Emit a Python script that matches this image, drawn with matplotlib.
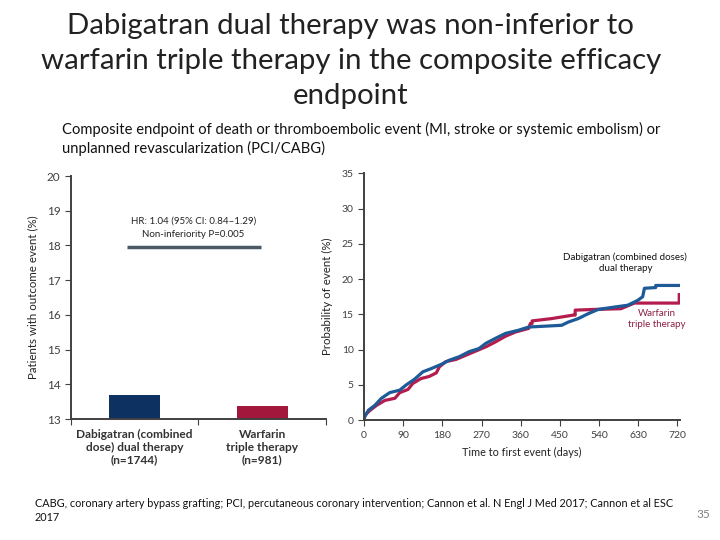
import matplotlib
matplotlib.use("Agg")
import matplotlib.pyplot as plt
import numpy as np

# ── data ─────────────────────────────────────────────────────────────────────
BAR_LABELS = ["Dabigatran (combined\ndose) dual therapy\n(n=1744)",
              "Warfarin\ntriple therapy\n(n=981)"]
BAR_VALUES = [13.68, 13.39]

# Kaplan-Meier curves (repeated day = vertical jump)
DABI_DAYS = [0, 0, 10, 25, 40, 59, 82, 97, 116, 135, 154, 177, 196, 219, 241,
             264, 280, 302, 325, 355, 378, 454, 469, 492, 515, 538, 560, 606,
             629, 640, 644, 670, 670, 726]
DABI_PROB = [0, 0.3, 1.4, 2.1, 3.1, 3.9, 4.25, 5.0, 5.8, 6.85, 7.3, 7.9, 8.5,
             9.0, 9.7, 10.15, 10.9, 11.6, 12.3, 12.75, 13.2, 13.45, 13.9, 14.4,
             15.1, 15.7, 15.9, 16.3, 17.0, 17.5, 18.7, 18.8, 19.1, 19.1]

WARF_DAYS = [0, 2, 14, 29, 48, 71, 82, 101, 112, 131, 150, 166, 173, 188, 211,
             234, 253, 280, 302, 325, 348, 378, 382, 386, 386, 431, 481, 485,
             485, 530, 590, 621, 724, 724]
WARF_PROB = [0, 0.7, 1.4, 2.1, 2.8, 3.1, 3.9, 4.35, 5.2, 5.9, 6.2, 6.7, 7.55,
             8.3, 8.6, 9.2, 9.7, 10.4, 11.1, 11.9, 12.5, 13.0, 13.7, 13.7,
             14.07, 14.4, 14.9, 14.9, 15.6, 15.7, 15.8, 16.6, 16.6, 17.8]

DAY_TICKS = [0, 90, 180, 270, 360, 450, 540, 630, 720]

# ── colours ──────────────────────────────────────────────────────────────────
NAVY = "#0d3261"
CRIMSON = "#a3173c"
KM_BLUE = "#1d5a97"
KM_RED = "#b41c4e"
AX_TXT = "#404040"

plt.rcParams["font.family"] = ["Lato", "DejaVu Sans"]

fig = plt.figure(figsize=(7.2, 5.4), dpi=100)

# ── title / subtitle ─────────────────────────────────────────────────────────
fig.text(0.487, 0.976, "Dabigatran dual therapy was non-inferior to\n"
         "warfarin triple therapy in the composite efficacy\nendpoint",
         ha="center", va="top", fontsize=21.2, color="#222222",
         fontweight="normal", linespacing=1.42)
fig.text(0.086, 0.743, "Composite endpoint of death or thromboembolic event (MI, "
         "stroke or systemic embolism) or\nunplanned revascularization (PCI/CABG)",
         ha="left", va="center", fontsize=10.6, color="#111111", linespacing=1.3)

# ── left: bar chart ──────────────────────────────────────────────────────────
ax1 = fig.add_axes([0.0986, 0.224, 0.354, 0.45])
x = np.arange(len(BAR_VALUES))
ax1.bar(x, [v - 13 for v in BAR_VALUES], bottom=13, width=0.4,
        color=[NAVY, CRIMSON])
ax1.set_xlim(-0.5, 1.5)
ax1.set_ylim(13, 20)
ax1.set_yticks(range(13, 21))
ax1.set_xticks([-0.5, 0.5, 1.5])
ax1.set_xticklabels([])
ax1.set_xticks(x, minor=True)
ax1.set_xticklabels(BAR_LABELS, minor=True, fontsize=8.6, fontweight="bold",
                    color="#333333", linespacing=1.2)
ax1.tick_params(axis="x", which="minor", length=0, pad=7)
ax1.tick_params(axis="both", which="major", length=4, direction="out",
                color=AX_TXT, labelsize=8.5, labelcolor=AX_TXT)
ax1.spines[["top", "right"]].set_visible(False)
ax1.spines[["left", "bottom"]].set_color(AX_TXT)
ax1.spines[["left", "bottom"]].set_linewidth(1.4)
ax1.set_ylabel("Patients with outcome event (%)", fontsize=8.3, color="#222222",
               labelpad=6)

# HR bracket + annotation
ax1.plot([-0.06, 0.99], [17.97, 17.97], color="#4b5866", linewidth=2.5,
         solid_capstyle="butt")
ax1.text(0.46, 18.5, "HR: 1.04 (95% CI: 0.84\u20131.29)\nNon-inferiority P=0.005",
         ha="center", va="center", fontsize=7, color="#222222",
         linespacing=1.65)

# ── right: Kaplan–Meier curves ───────────────────────────────────────────────
ax2 = fig.add_axes([0.5056, 0.222, 0.439, 0.457])
ax2.plot(WARF_DAYS, WARF_PROB, color=KM_RED, linewidth=2.3)
ax2.plot(DABI_DAYS, DABI_PROB, color=KM_BLUE, linewidth=2.3)
ax2.set_xlim(0, 726)
ax2.set_ylim(0, 35)
ax2.set_xticks(DAY_TICKS)
ax2.set_yticks(range(0, 36, 5))
ax2.tick_params(axis="both", length=4, direction="out", color=AX_TXT,
                labelsize=7.5, labelcolor=AX_TXT)
ax2.spines[["top", "right"]].set_visible(False)
ax2.spines[["left", "bottom"]].set_color(AX_TXT)
ax2.spines[["left", "bottom"]].set_linewidth(1.4)
ax2.set_ylabel("Probability of event (%)", fontsize=8.3, color="#222222",
               labelpad=6)
ax2.set_xlabel("Time to first event (days)", fontsize=7.8, color="#222222",
               labelpad=5)

ax2.text(600, 22.3, "Dabigatran (combined doses)\ndual therapy", ha="center",
         va="center", fontsize=7, color="#111111", linespacing=1.3)
ax2.text(673, 14.3, "Warfarin\ntriple therapy", ha="center", va="center",
         fontsize=7, color="#8c1f45", linespacing=1.3)

# ── footer ───────────────────────────────────────────────────────────────────
fig.text(0.048, 0.055, "CABG, coronary artery bypass grafting; PCI, percutaneous "
         "coronary intervention; Cannon et al. N Engl J Med 2017; Cannon et al ESC\n2017",
         ha="left", va="center", fontsize=7.85, color="#111111", linespacing=1.3)
fig.text(0.977, 0.048, "35", ha="center", va="center", fontsize=8.5,
         color="#808080")

fig.savefig("out.png", dpi=100)
